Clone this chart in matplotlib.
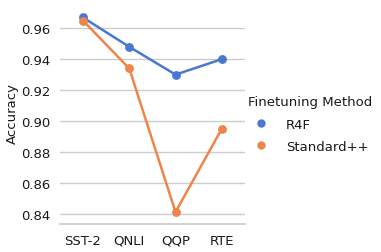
import matplotlib
matplotlib.use("Agg")
import matplotlib.pyplot as plt
from matplotlib.lines import Line2D
import seaborn as sns
import pandas as pd

tasks = ["SST-2", "QNLI", "QQP", "RTE"]
methods = ["R4F", "Standard++"]
r4f = [0.967, 0.948, 0.930, 0.940]
standard = [0.965, 0.934, 0.841, 0.895]

df = pd.DataFrame({
    "Task": tasks * 2,
    "Accuracy": r4f + standard,
    "Finetuning Method": [methods[0]] * 4 + [methods[1]] * 4,
})

sns.set_theme(style="whitegrid", palette="muted")
plt.rcParams['font.family'] = ['DejaVu Sans']
colors = sns.color_palette("muted")[:2]

fs = 9.5
fig = plt.figure(figsize=(3.81, 2.53), dpi=100)
ax = fig.add_axes([0.157, 0.111, 0.486, 0.877])
sns.pointplot(data=df, x="Task", y="Accuracy", hue="Finetuning Method",
              ax=ax, markersize=5, linewidth=1.8, palette=colors)
ax.set_ylim(0.8333, 0.977)
ax.set_xlabel("")
ax.set_ylabel("Accuracy", fontsize=fs, labelpad=1.5, color=".1")
ax.tick_params(axis="both", labelsize=fs, pad=1, colors=".1")
sns.despine(ax=ax, left=True)
ax.set_yticks([0.84, 0.86, 0.88, 0.90, 0.92, 0.94, 0.96])
ax.set_yticklabels(["0.84", "0.86", "0.88", "0.90", "0.92", "0.94", "0.96"])
handles = [Line2D([], [], marker="o", linestyle="none", color=c, markersize=5) for c in colors]
leg = ax.legend(handles, methods, title="Finetuning Method", loc="center left",
                bbox_to_anchor=(1.0, 0.45), frameon=False, fontsize=fs,
                title_fontsize=fs, handlelength=2.0, handletextpad=0.9,
                borderaxespad=0.0, borderpad=0.2, labelspacing=0.7,
                alignment="left")
for t in leg.get_texts():
    t.set_color(".1")
leg.get_title().set_color(".1")
fig.savefig("out.png", dpi=100)
